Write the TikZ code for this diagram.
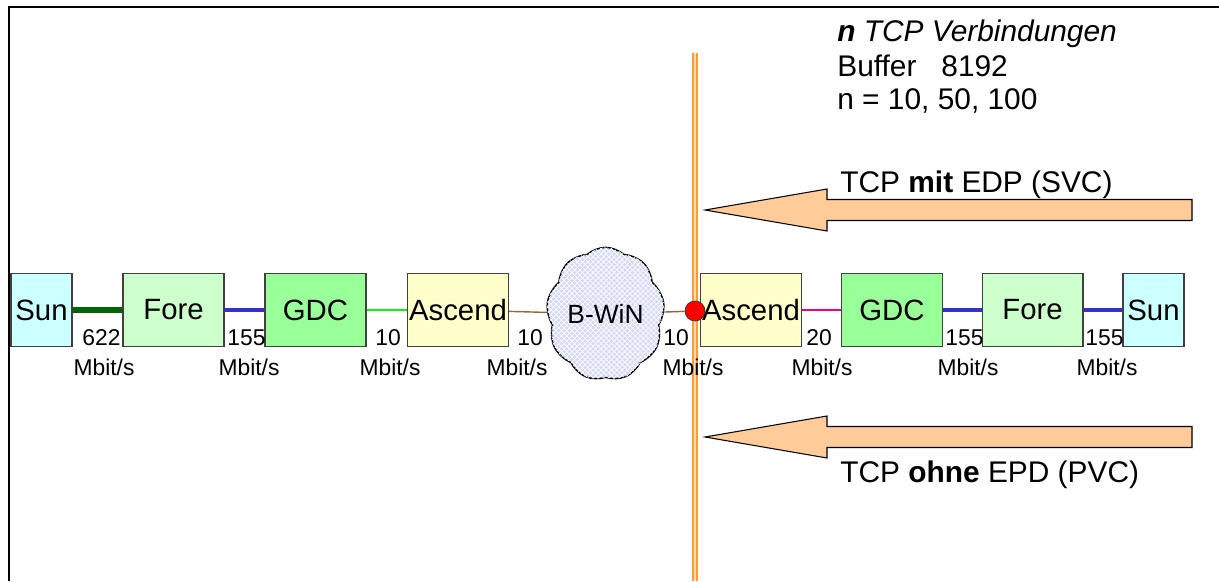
\documentclass[tikz,border=0pt]{standalone}
\usepackage{fontspec}
\setmainfont{Liberation Sans}
\usetikzlibrary{shapes.symbols,patterns}
\def\boxwidth{2.02cm}
\def\sunwidth{1.22cm}
\def\boxheight{1.46cm}
\definecolor{sunfill}{RGB}{204,255,255}
\definecolor{forefill}{RGB}{204,255,204}
\definecolor{gdcfill}{RGB}{153,255,153}
\definecolor{ascfill}{RGB}{255,255,204}
\definecolor{cloudfill}{RGB}{212,216,250}
\definecolor{darkgreen}{RGB}{0,102,0}
\definecolor{atmblue}{RGB}{51,51,204}
\definecolor{linkbrown}{RGB}{153,102,51}
\definecolor{cutorange}{RGB}{255,153,51}
\definecolor{cutlight}{RGB}{255,222,186}
\definecolor{arrowfill}{RGB}{255,204,153}

\begin{document}
\begin{tikzpicture}[x=0.02cm,y=-0.02cm]
    \tikzstyle{device}=[rectangle,draw=black!75,line width=0.6pt,minimum height=\boxheight,inner sep=0pt,font=\fontsize{16.7}{20}\selectfont]
    \tikzstyle{net cloud}=[cloud,cloud puffs=9,cloud puff arc=85,aspect=0.85,draw=black,line width=0.8pt,fill=cloudfill,postaction={pattern=crosshatch,pattern color=white},minimum width=1.9cm,minimum height=2.4cm,inner sep=0pt,font=\fontsize{15}{18}\selectfont]
    \tikzstyle{cut dot}=[circle,draw=black!80,fill=red,minimum size=0.4cm,inner sep=0pt]
    \tikzstyle{rate num}=[anchor=base west,inner sep=0pt,font=\fontsize{13}{15}\selectfont]
    \tikzstyle{rate unit}=[anchor=base,inner sep=0pt,font=\fontsize{13}{15}\selectfont]
    \tikzstyle{annot}=[anchor=base west,inner sep=0pt,font=\fontsize{17}{20}\selectfont]
    \tikzstyle{link622}=[darkgreen,line width=3.4pt]
    \tikzstyle{link155}=[atmblue,line width=2.8pt]
    \tikzstyle{link10}=[green,line width=1.1pt]
    \tikzstyle{link20}=[magenta,line width=0.6pt]
    \tikzstyle{linkb}=[linkbrown,line width=0.8pt]
    \tikzstyle{cut line}=[cutorange,line width=1pt,double=cutlight,double distance=1.1pt]
    \tikzstyle{big arrow}=[draw=black,line width=0.6pt,fill=arrowfill]

    \useasboundingbox (0,0) rectangle (1219,581);

    % Frame
    \coordinate (F-1) at (9,581);
    \coordinate (F-2) at (9,7);
    \coordinate (F-3) at (1219,7);
    \draw[line width=1.2pt] (F-1) -- (F-2) -- (F-3);

    % Cut between the two sites
    \coordinate (C-top) at (695,53);
    \coordinate (C-bot) at (695,581);
    \draw[cut line] (C-top) -- (C-bot);

    % Draw the devices
    \foreach \name / \x / \w / \col / \txt in {SunL/41.5/\sunwidth/sunfill/Sun, ForeL/173.5/\boxwidth/forefill/Fore,
        GDCL/315.5/\boxwidth/gdcfill/GDC, AscL/458/\boxwidth/ascfill/Ascend, AscR/751/\boxwidth/ascfill/Ascend,
        GDCR/892/\boxwidth/gdcfill/GDC, ForeR/1032.5/\boxwidth/forefill/Fore, SunR/1153.5/\sunwidth/sunfill/Sun}
        \path
            node[device, minimum width=\w, fill=\col] (\name) at (\x,310) {\txt};

    \path
        node[net cloud] (Cloud) at (605.5,314) {B-WiN};

    % Draw the links
    \draw[link622] (SunL) -- (ForeL);
    \draw[link155] (ForeL) -- (GDCL);
    \draw[link10] (GDCL) -- (AscL);
    \draw[linkb] (AscL) -- (Cloud);
    \path
        node[cut dot] (Dot) at (695,311) {};
    \draw[linkb] (Cloud) -- (Dot);
    \draw[link20] (AscR) -- (GDCR);
    \draw[link155] (GDCR) -- (ForeR);
    \draw[link155] (ForeR) -- (SunR);

    % Link rates
    \foreach \name / \xn / \num / \xm in {R-1/82/622/104, R-2/227/155/249, R-3/375/10/390, R-4/517/10/517,
        R-5/663/10/693, R-6/806/20/822, R-7/945/155/968, R-8/1085/155/1107}
    {
        \path node[rate num] (\name-n) at (\xn,345) {\num};
        \path node[rate unit] (\name-u) at (\xm,375) {Mbit/s};
    }

    % Test setup
    \node[annot] (T-1) at (837,42) {{\bfseries\itshape n} \itshape TCP Verbindungen};
    \node[annot] (T-2) at (837,76) {Buffer\ \ \ 8192};
    \node[annot] (T-3) at (837,110) {n = 10, 50, 100};

    % Direction arrows
    \draw[big arrow] (705,210) -- (827,189) -- (827,199.5) -- (1192,199.5) -- (1192,220.5) -- (827,220.5) -- (827,231) -- cycle;
    \node[annot] (T-4) at (840,192) {TCP \textbf{mit} EDP (SVC)};
    \draw[big arrow] (705,437) -- (827,416) -- (827,426.5) -- (1192,426.5) -- (1192,447.5) -- (827,447.5) -- (827,458) -- cycle;
    \node[annot] (T-5) at (840,482) {TCP \textbf{ohne} EPD (PVC)};
\end{tikzpicture}
\end{document}
